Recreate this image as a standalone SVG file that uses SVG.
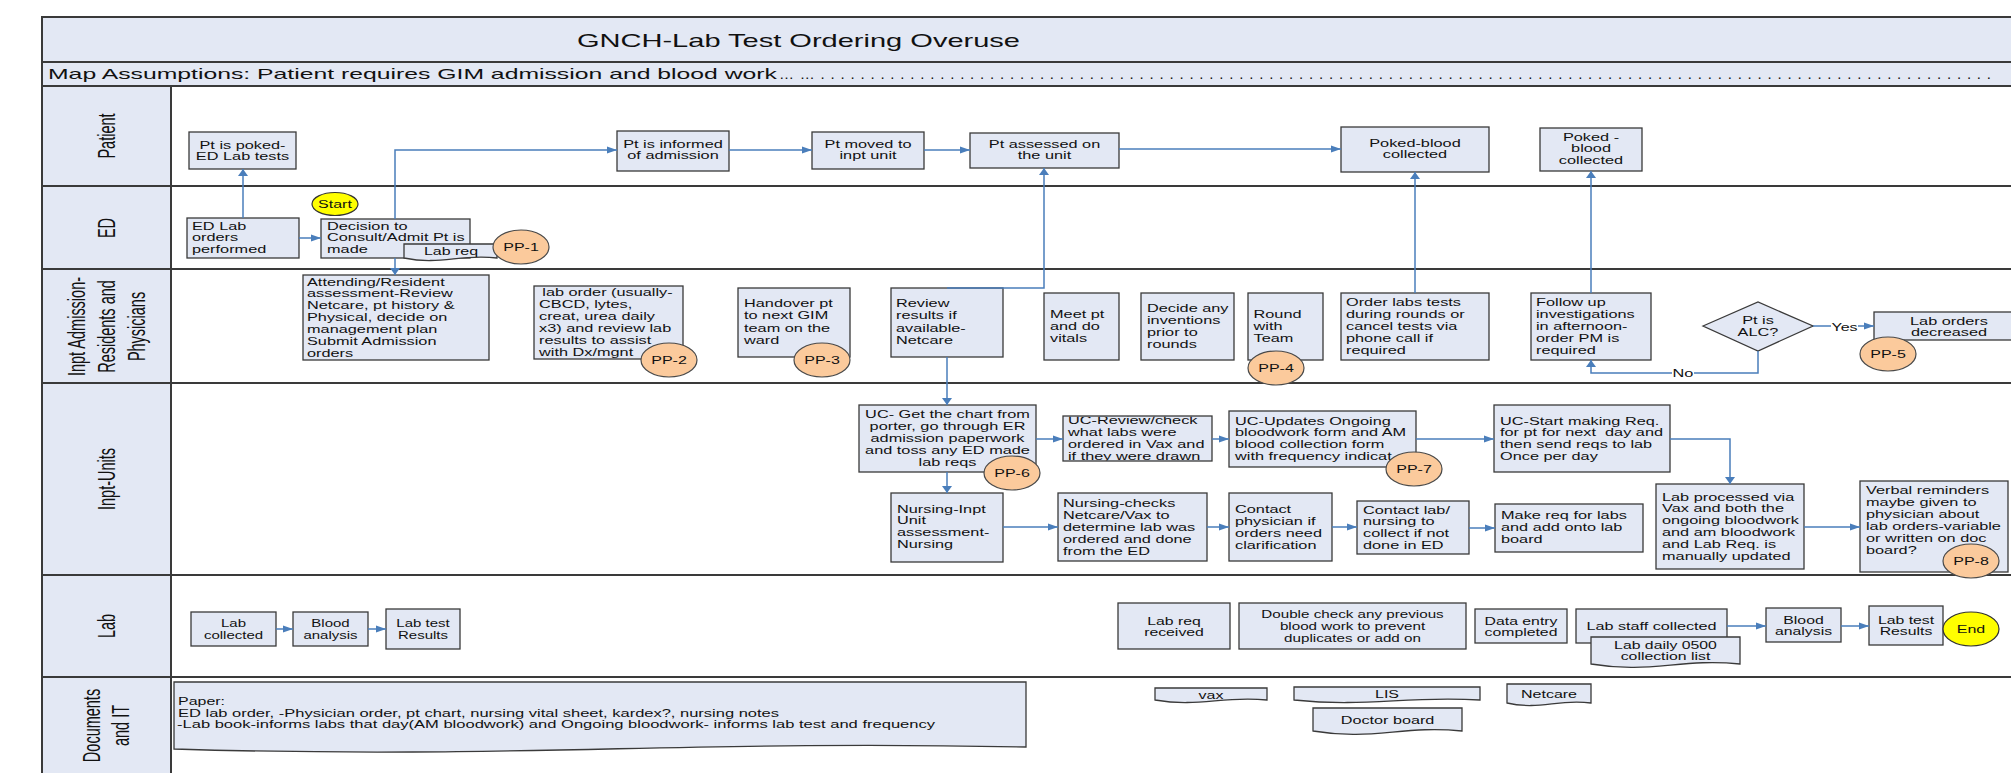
<svg xmlns="http://www.w3.org/2000/svg" width="2011" height="773" viewBox="0 0 2011 773">
<defs>
<style>
.t{font-family:"Liberation Sans",Arial,Helvetica,sans-serif;font-size:10px;fill:#111}
.c{text-anchor:middle}
.box{fill:#e3e8f4;stroke:#3a3a3a;stroke-width:1.3}
.pp{fill:#fbca9c;stroke:#4a4a4a;stroke-width:1.2}
.se{fill:#ffff00;stroke:#333;stroke-width:1.2}
.cn{fill:none;stroke:#4a7ebb;stroke-width:1.5}
.ln{stroke:#3a3a3a;stroke-width:2;fill:none}
.band{fill:#e3e8f4;stroke:#3a3a3a;stroke-width:2}
.lbl{font-family:"Liberation Sans",Arial,Helvetica,sans-serif;font-size:14.5px;text-anchor:middle;fill:#111}
.hd{font-family:"Liberation Sans",Arial,Helvetica,sans-serif;fill:#111}
</style>
<marker id="ah" markerUnits="userSpaceOnUse" markerWidth="11" markerHeight="8" refX="10" refY="4" orient="auto"><path d="M0,0.5 L10,4 L0,7.5 z" fill="#4a7ebb"/></marker>
<marker id="av" markerUnits="userSpaceOnUse" markerWidth="8" markerHeight="11" refX="7" refY="5" orient="auto"><path d="M0,0 L7,5 L0,10 z" fill="#4a7ebb"/></marker>
<clipPath id="clipR"><rect x="1063" y="416.7" width="149" height="43.8"/></clipPath>
</defs>
<rect x="0" y="0" width="2011" height="773" fill="#ffffff"/>

<g id="frame">
<rect class="band" x="42" y="17" width="1990" height="45"/>
<rect class="band" x="42" y="62" width="1990" height="24"/>
<rect class="band" x="42" y="86" width="129" height="700"/>
<path class="ln" d="M42,186 H2011 M42,269 H2011 M42,383 H2011 M42,575 H2011 M42,677 H2011"/>
<text class="hd" x="577" y="46.5" font-size="18.5" textLength="443" lengthAdjust="spacingAndGlyphs">GNCH-Lab Test Ordering Overuse</text>
<text class="hd" x="48" y="79" font-size="15" textLength="729" lengthAdjust="spacingAndGlyphs">Map Assumptions: Patient requires GIM admission and blood work</text>
<text class="hd" x="779" y="79" font-size="15" textLength="1212" lengthAdjust="spacing">……......................................................................................................................</text>
</g>

<g id="lanes">
<text class="lbl" transform="translate(106.5,136) scale(1.65,1) rotate(-90)" y="5">Patient</text>
<text class="lbl" transform="translate(106.5,228) scale(1.65,1) rotate(-90)" y="5">ED</text>
<text class="lbl" transform="translate(106.5,326.5) scale(1.65,1) rotate(-90)"><tspan x="0" y="-13.2">Inpt Admission-</tspan><tspan x="0" y="5">Residents and</tspan><tspan x="0" y="23.2">Physicians</tspan></text>
<text class="lbl" transform="translate(106.5,479) scale(1.65,1) rotate(-90)" y="5">Inpt-Units</text>
<text class="lbl" transform="translate(106.5,626) scale(1.65,1) rotate(-90)" y="5">Lab</text>
<text class="lbl" transform="translate(106.5,725.5) scale(1.65,1) rotate(-90)"><tspan x="0" y="-3.7">Documents</tspan><tspan x="0" y="13.7">and IT</tspan></text>
</g>

<!-- Patient lane -->
<g id="n-poked"><rect class="box" x="189" y="132" width="107" height="37"/><text class="t c" transform="translate(242.5,148.5) scale(1.63,1)"><tspan x="0">Pt is poked-</tspan><tspan x="0" dy="11.5">ED Lab tests</tspan></text></g>
<g id="n-informed"><rect class="box" x="617" y="131" width="112" height="40"/><text class="t c" transform="translate(673,148) scale(1.63,1)"><tspan x="0">Pt is informed</tspan><tspan x="0" dy="11.5">of admission</tspan></text></g>
<g id="n-moved"><rect class="box" x="812" y="132" width="112" height="37"/><text class="t c" transform="translate(868,148) scale(1.63,1)"><tspan x="0">Pt moved to</tspan><tspan x="0" dy="11.5">inpt unit</tspan></text></g>
<g id="n-assessed"><rect class="box" x="970" y="133" width="149" height="35"/><text class="t c" transform="translate(1044.5,148) scale(1.63,1)"><tspan x="0">Pt assessed on</tspan><tspan x="0" dy="11.5">the unit</tspan></text></g>
<g id="n-pokedblood"><rect class="box" x="1341" y="127" width="148" height="45"/><text class="t c" transform="translate(1415,147) scale(1.63,1)"><tspan x="0">Poked-blood</tspan><tspan x="0" dy="11.5">collected</tspan></text></g>
<g id="n-poked2"><rect class="box" x="1540" y="128" width="102" height="43"/><text class="t c" transform="translate(1591,140.5) scale(1.63,1)"><tspan x="0">Poked -</tspan><tspan x="0" dy="12">blood</tspan><tspan x="0" dy="12">collected</tspan></text></g>

<!-- ED lane -->
<g id="n-edlab"><rect class="box" x="187" y="218" width="112" height="40"/><text class="t" transform="translate(192,229.5) scale(1.63,1)"><tspan x="0">ED Lab</tspan><tspan x="0" dy="12">orders</tspan><tspan x="0" dy="12">performed</tspan></text></g>
<g id="n-decision"><rect class="box" x="321" y="219" width="149" height="39"/><text class="t" transform="translate(327,229.5) scale(1.63,1)"><tspan x="0">Decision to</tspan><tspan x="0" dy="12">Consult/Admit Pt is</tspan><tspan x="0" dy="12">made</tspan></text></g>
<g id="n-start"><ellipse class="se" cx="335" cy="204" rx="23" ry="11.5"/><text class="t c" transform="translate(335,207.6) scale(1.6,1)">Start</text></g>
<g id="n-labreq"><path class="box" d="M404,244 H497 V258 C459.8,253.5 441.2,265.5 404,258 Z"/><text class="t c" transform="translate(451,255) scale(1.6,1)">Lab req</text></g>
<g id="pp1"><ellipse class="pp" cx="521" cy="247" rx="28" ry="17"/><text class="t c" font-size="10.5" transform="translate(521,251) scale(1.6,1)">PP-1</text></g>

<!-- Inpt Admission lane -->
<g id="n-attending"><rect class="box" x="303" y="275" width="186" height="85"/><text class="t" transform="translate(307,285.5) scale(1.63,1)"><tspan x="0">Attending/Resident</tspan><tspan x="0" dy="12">assessment-Review</tspan><tspan x="0" dy="12">Netcare, pt history &amp;</tspan><tspan x="0" dy="12">Physical, decide on</tspan><tspan x="0" dy="12">management plan</tspan><tspan x="0" dy="12">Submit Admission</tspan><tspan x="0" dy="12">orders</tspan></text></g>
<g id="n-laborder"><rect class="box" x="534" y="286" width="149" height="73"/><text class="t" transform="translate(539,296) scale(1.63,1)"><tspan x="2">lab order (usually-</tspan><tspan x="0" dy="12">CBCD, lytes,</tspan><tspan x="0" dy="12">creat, urea daily</tspan><tspan x="0" dy="12">x3) and review lab</tspan><tspan x="0" dy="12">results to assist</tspan><tspan x="0" dy="12">with Dx/mgnt</tspan></text></g>
<g id="pp2"><ellipse class="pp" cx="669" cy="360" rx="28" ry="17"/><text class="t c" font-size="10.5" transform="translate(669,364) scale(1.6,1)">PP-2</text></g>
<g id="n-handover"><rect class="box" x="738" y="288" width="112" height="69"/><text class="t" transform="translate(744,307) scale(1.63,1)"><tspan x="0">Handover pt</tspan><tspan x="0" dy="12.3">to next GIM</tspan><tspan x="0" dy="12.3">team on the</tspan><tspan x="0" dy="12.3">ward</tspan></text></g>
<g id="pp3"><ellipse class="pp" cx="822" cy="360" rx="28" ry="17"/><text class="t c" font-size="10.5" transform="translate(822,364) scale(1.6,1)">PP-3</text></g>
<g id="n-review"><rect class="box" x="891" y="288" width="112" height="69"/><text class="t" transform="translate(896,307) scale(1.63,1)"><tspan x="0">Review</tspan><tspan x="0" dy="12.3">results if</tspan><tspan x="0" dy="12.3">available-</tspan><tspan x="0" dy="12.3">Netcare</tspan></text></g>
<g id="n-meet"><rect class="box" x="1044" y="293" width="75" height="67"/><text class="t" transform="translate(1050,317.5) scale(1.63,1)"><tspan x="0">Meet pt</tspan><tspan x="0" dy="12.3">and do</tspan><tspan x="0" dy="12.3">vitals</tspan></text></g>
<g id="n-decide"><rect class="box" x="1141" y="293" width="93" height="67"/><text class="t" transform="translate(1147,312) scale(1.63,1)"><tspan x="0">Decide any</tspan><tspan x="0" dy="12">inventions</tspan><tspan x="0" dy="12">prior to</tspan><tspan x="0" dy="12">rounds</tspan></text></g>
<g id="n-round"><rect class="box" x="1248" y="293" width="75" height="67"/><text class="t" transform="translate(1253.5,317.5) scale(1.63,1)"><tspan x="0">Round</tspan><tspan x="0" dy="12.3">with</tspan><tspan x="0" dy="12.3">Team</tspan></text></g>
<g id="pp4"><ellipse class="pp" cx="1276" cy="368" rx="28" ry="17"/><text class="t c" font-size="10.5" transform="translate(1276,372) scale(1.6,1)">PP-4</text></g>
<g id="n-orderlabs"><rect class="box" x="1341" y="293" width="148" height="67"/><text class="t" transform="translate(1346,306) scale(1.63,1)"><tspan x="0">Order labs tests</tspan><tspan x="0" dy="12">during rounds or</tspan><tspan x="0" dy="12">cancel tests via</tspan><tspan x="0" dy="12">phone call if</tspan><tspan x="0" dy="12">required</tspan></text></g>
<g id="n-followup"><rect class="box" x="1531" y="293" width="120" height="67"/><text class="t" transform="translate(1536,306) scale(1.63,1)"><tspan x="0">Follow up</tspan><tspan x="0" dy="12">investigations</tspan><tspan x="0" dy="12">in afternoon-</tspan><tspan x="0" dy="12">order PM is</tspan><tspan x="0" dy="12">required</tspan></text></g>
<g id="n-alc"><polygon class="box" points="1703,326 1758,302 1813,326 1758,351"/><text class="t c" transform="translate(1758,324) scale(1.63,1)"><tspan x="0">Pt is</tspan><tspan x="0" dy="12">ALC?</tspan></text></g>
<g id="n-decreased"><rect class="box" x="1874" y="312" width="150" height="28"/><text class="t c" transform="translate(1949,324.5) scale(1.63,1)"><tspan x="0">Lab orders</tspan><tspan x="0" dy="12">decreased</tspan></text></g>
<g id="pp5"><ellipse class="pp" cx="1888" cy="354" rx="28" ry="17"/><text class="t c" font-size="10.5" transform="translate(1888,358) scale(1.6,1)">PP-5</text></g>

<!-- Inpt-Units lane -->
<g id="n-ucget"><rect class="box" x="859" y="405" width="177" height="67"/><text class="t c" transform="translate(947.5,418) scale(1.63,1)"><tspan x="0">UC- Get the chart from</tspan><tspan x="0" dy="12">porter, go through ER</tspan><tspan x="0" dy="12">admission paperwork</tspan><tspan x="0" dy="12">and toss any ED made</tspan><tspan x="0" dy="12">lab reqs</tspan></text></g>
<g id="pp6"><ellipse class="pp" cx="1012" cy="473" rx="28" ry="17"/><text class="t c" font-size="10.5" transform="translate(1012,477) scale(1.6,1)">PP-6</text></g>
<g id="n-ucreview"><rect class="box" x="1063" y="416" width="149" height="45"/><g clip-path="url(#clipR)"><text class="t" transform="translate(1068,424) scale(1.63,1)"><tspan x="0">UC-Review/check</tspan><tspan x="0" dy="12">what labs were</tspan><tspan x="0" dy="12">ordered in Vax and</tspan><tspan x="0" dy="12">if they were drawn</tspan></text></g></g>
<g id="n-ucupdates"><rect class="box" x="1229" y="411" width="187" height="56"/><text class="t" transform="translate(1235,424.5) scale(1.63,1)"><tspan x="0">UC-Updates Ongoing</tspan><tspan x="0" dy="11.8">bloodwork form and AM</tspan><tspan x="0" dy="11.8">blood collection form</tspan><tspan x="0" dy="11.8">with frequency indicat</tspan></text></g>
<g id="pp7"><ellipse class="pp" cx="1414" cy="469" rx="28" ry="17"/><text class="t c" font-size="10.5" transform="translate(1414,473) scale(1.6,1)">PP-7</text></g>
<g id="n-ucstart"><rect class="box" x="1494" y="405" width="176" height="67"/><text class="t" xml:space="preserve" transform="translate(1500,424.5) scale(1.63,1)"><tspan x="0">UC-Start making Req.</tspan><tspan x="0" dy="12">for pt for next  day and</tspan><tspan x="0" dy="12">then send reqs to lab</tspan><tspan x="0" dy="12">Once per day</tspan></text></g>
<g id="n-nursinginpt"><rect class="box" x="891" y="493" width="112" height="69"/><text class="t" transform="translate(897,512.5) scale(1.63,1)"><tspan x="0">Nursing-Inpt</tspan><tspan x="0" dy="12">Unit</tspan><tspan x="0" dy="12">assessment-</tspan><tspan x="0" dy="12">Nursing</tspan></text></g>
<g id="n-nursingchecks"><rect class="box" x="1058" y="493" width="149" height="68"/><text class="t" transform="translate(1063,507) scale(1.63,1)"><tspan x="0">Nursing-checks</tspan><tspan x="0" dy="12">Netcare/Vax to</tspan><tspan x="0" dy="12">determine lab was</tspan><tspan x="0" dy="12">ordered and done</tspan><tspan x="0" dy="12">from the ED</tspan></text></g>
<g id="n-contactphys"><rect class="box" x="1229" y="493" width="103" height="68"/><text class="t" transform="translate(1235,512.5) scale(1.63,1)"><tspan x="0">Contact</tspan><tspan x="0" dy="12.2">physician if</tspan><tspan x="0" dy="12.2">orders need</tspan><tspan x="0" dy="12.2">clarification</tspan></text></g>
<g id="n-contactlab"><rect class="box" x="1357" y="501" width="112" height="53"/><text class="t" transform="translate(1363,513.5) scale(1.63,1)"><tspan x="0">Contact lab/</tspan><tspan x="0" dy="12">nursing to</tspan><tspan x="0" dy="12">collect if not</tspan><tspan x="0" dy="12">done in ED</tspan></text></g>
<g id="n-makereq"><rect class="box" x="1495" y="504" width="148" height="48"/><text class="t" transform="translate(1501,519) scale(1.63,1)"><tspan x="0">Make req for labs</tspan><tspan x="0" dy="12.2">and add onto lab</tspan><tspan x="0" dy="12.2">board</tspan></text></g>
<g id="n-labprocessed"><rect class="box" x="1656" y="484" width="148" height="85"/><text class="t" transform="translate(1662,500.5) scale(1.63,1)"><tspan x="0">Lab processed via</tspan><tspan x="0" dy="12">Vax and both the</tspan><tspan x="0" dy="12">ongoing bloodwork</tspan><tspan x="0" dy="12">and am bloodwork</tspan><tspan x="0" dy="12">and Lab Req. is</tspan><tspan x="0" dy="12">manually updated</tspan></text></g>
<g id="n-verbal"><rect class="box" x="1860" y="481" width="148" height="91"/><text class="t" transform="translate(1866,493.5) scale(1.63,1)"><tspan x="0">Verbal reminders</tspan><tspan x="0" dy="12.1">maybe given to</tspan><tspan x="0" dy="12.1">physician about</tspan><tspan x="0" dy="12.1">lab orders-variable</tspan><tspan x="0" dy="12.1">or written on doc</tspan><tspan x="0" dy="12.1">board?</tspan></text></g>
<g id="pp8"><ellipse class="pp" cx="1971" cy="561" rx="28" ry="17"/><text class="t c" font-size="10.5" transform="translate(1971,565) scale(1.6,1)">PP-8</text></g>

<!-- Lab lane -->
<g id="n-labcollected"><rect class="box" x="191" y="612" width="85" height="34"/><text class="t c" transform="translate(233.5,627) scale(1.5,1)"><tspan x="0">Lab</tspan><tspan x="0" dy="12">collected</tspan></text></g>
<g id="n-blood1"><rect class="box" x="293" y="612" width="75" height="34"/><text class="t c" transform="translate(330.5,627) scale(1.5,1)"><tspan x="0">Blood</tspan><tspan x="0" dy="12">analysis</tspan></text></g>
<g id="n-labtest1"><rect class="box" x="386" y="609" width="74" height="40"/><text class="t c" transform="translate(423,627) scale(1.5,1)"><tspan x="0">Lab test</tspan><tspan x="0" dy="12">Results</tspan></text></g>
<g id="n-labreqrec"><rect class="box" x="1118" y="603" width="112" height="46"/><text class="t c" transform="translate(1174,624.5) scale(1.58,1)"><tspan x="0">Lab req</tspan><tspan x="0" dy="11.5">received</tspan></text></g>
<g id="n-doublecheck"><rect class="box" x="1239" y="603" width="227" height="46"/><text class="t c" transform="translate(1352.5,618) scale(1.52,1)"><tspan x="0">Double check any previous</tspan><tspan x="0" dy="12.2">blood work to prevent</tspan><tspan x="0" dy="12.2">duplicates or add on</tspan></text></g>
<g id="n-dataentry"><rect class="box" x="1475" y="609" width="92" height="34"/><text class="t c" transform="translate(1521,624.5) scale(1.58,1)"><tspan x="0">Data entry</tspan><tspan x="0" dy="11.5">completed</tspan></text></g>
<g id="n-labstaff"><rect class="box" x="1576" y="609" width="151" height="34"/><text class="t c" transform="translate(1651.5,630) scale(1.62,1)">Lab staff collected</text></g>
<g id="n-labdaily"><path class="box" d="M1591,637 H1740 V664 C1680.4,658 1650.6,674 1591,664 Z"/><text class="t c" transform="translate(1665.5,648.5) scale(1.58,1)"><tspan x="0">Lab daily 0500</tspan><tspan x="0" dy="12">collection list</tspan></text></g>
<g id="n-blood2"><rect class="box" x="1766" y="608" width="75" height="34"/><text class="t c" transform="translate(1803.5,623.5) scale(1.58,1)"><tspan x="0">Blood</tspan><tspan x="0" dy="11.5">analysis</tspan></text></g>
<g id="n-labtest2"><rect class="box" x="1869" y="606" width="74" height="39"/><text class="t c" transform="translate(1906,623.5) scale(1.58,1)"><tspan x="0">Lab test</tspan><tspan x="0" dy="11.5">Results</tspan></text></g>
<g id="n-end"><ellipse class="se" cx="1971" cy="629" rx="28" ry="17"/><text class="t c" transform="translate(1971,632.6) scale(1.6,1)">End</text></g>

<!-- Documents lane -->
<g id="n-paper"><path class="box" d="M174,682 H1026 V747 C685.2,739.5 515.8,759.5 174,749 Z"/><text class="t" x="178" y="705" textLength="47" lengthAdjust="spacingAndGlyphs">Paper:</text><text class="t" x="178" y="716.5" textLength="601" lengthAdjust="spacingAndGlyphs">ED lab order, -Physician order, pt chart, nursing vital sheet, kardex?, nursing notes</text><text class="t" x="177" y="728" textLength="758" lengthAdjust="spacingAndGlyphs">-Lab book-informs labs that day(AM bloodwork) and Ongoing bloodwork- informs lab test and frequency</text></g>
<g id="n-vax"><path class="box" d="M1155,688 H1267 V700 C1222.2,695.5 1199.8,707.5 1155,700 Z"/><text class="t c" transform="translate(1211,698.5) scale(1.6,1)">vax</text></g>
<g id="n-lis"><path class="box" d="M1294,687 H1480 V700 C1405.6,695.5 1368.4,707.5 1294,700 Z"/><text class="t c" transform="translate(1387,698) scale(1.6,1)">LIS</text></g>
<g id="n-netcare"><path class="box" d="M1507,684 H1591 V703 C1557.4,698.5 1540.6,710.5 1507,703 Z"/><text class="t c" transform="translate(1549,698) scale(1.6,1)">Netcare</text></g>
<g id="n-doctorboard"><path class="box" d="M1313,708 H1462 V731 C1402.4,725 1372.6,741 1313,731 Z"/><text class="t c" transform="translate(1387.5,724) scale(1.62,1)">Doctor board</text></g>

<g id="connectors">
<path class="cn" marker-end="url(#av)" d="M243,218 V169"/>
<path class="cn" marker-end="url(#ah)" d="M299,238 H321"/>
<path class="cn" marker-end="url(#ah)" d="M395,219 V150 H617"/>
<path class="cn" marker-end="url(#av)" d="M395,258 V275"/>
<path class="cn" marker-end="url(#ah)" d="M729,150 H812"/>
<path class="cn" marker-end="url(#ah)" d="M924,150 H970"/>
<path class="cn" marker-end="url(#ah)" d="M1119,149 H1341"/>
<path class="cn" marker-end="url(#av)" d="M947,288 H1044 V168"/>
<path class="cn" marker-end="url(#av)" d="M947,357 V405"/>
<path class="cn" marker-end="url(#ah)" d="M1036,439 H1063"/>
<path class="cn" marker-end="url(#ah)" d="M1212,439 H1229"/>
<path class="cn" marker-end="url(#ah)" d="M1416,439 H1494"/>
<path class="cn" marker-end="url(#av)" d="M1670,439 H1730 V484"/>
<path class="cn" marker-end="url(#av)" d="M947,472 V493"/>
<path class="cn" marker-end="url(#ah)" d="M1003,527 H1058"/>
<path class="cn" marker-end="url(#ah)" d="M1207,527 H1229"/>
<path class="cn" marker-end="url(#ah)" d="M1332,527 H1357"/>
<path class="cn" marker-end="url(#ah)" d="M1469,528 H1495"/>
<path class="cn" marker-end="url(#ah)" d="M1804,527 H1860"/>
<path class="cn" marker-end="url(#av)" d="M1415,293 V172"/>
<path class="cn" marker-end="url(#av)" d="M1591,293 V171"/>
<path class="cn" marker-end="url(#ah)" d="M1813,326 H1874"/>
<rect x="1831" y="320" width="27" height="13" fill="#ffffff"/>
<text class="t c" transform="translate(1844.5,330.5) scale(1.6,1)">Yes</text>
<path class="cn" marker-end="url(#av)" d="M1758,351 V373 H1591 V360"/>
<rect x="1672" y="367" width="22" height="13" fill="#ffffff"/>
<text class="t c" transform="translate(1683,377) scale(1.63,1)">No</text>
<path class="cn" marker-end="url(#ah)" d="M276,629 H293"/>
<path class="cn" marker-end="url(#ah)" d="M368,629 H386"/>
<path class="cn" marker-end="url(#ah)" d="M1727,626 H1766"/>
<path class="cn" marker-end="url(#ah)" d="M1841,626 H1869"/>
</g>
</svg>
